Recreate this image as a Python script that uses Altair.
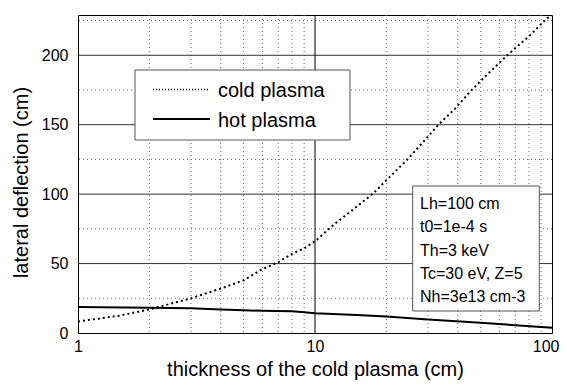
import altair as alt
import pandas as pd

# ---- data ----
cold_x = [1, 1.5, 2, 3, 4, 5, 6, 7, 8, 9, 10, 12, 15, 17.6, 20, 24.4, 30, 33, 39, 45, 51, 62, 72, 80, 87.5, 95.6, 100]
cold_y = [8.3, 12.5, 17, 25, 32, 38, 46, 51, 57, 61, 66, 78, 91, 100.5, 110, 124.5, 141.5, 149.6, 161.6, 173.6, 183, 197, 207, 213.7, 220.4, 226.8, 228.5]
hot_x = [1, 2, 3, 4, 5, 6, 8, 9, 10, 15, 20, 30, 50, 70, 100]
hot_y = [18.8, 18.2, 17.8, 17.0, 16.3, 16.0, 15.6, 14.9, 14.2, 13.0, 11.8, 9.8, 7.4, 5.6, 3.8]
series_names = ["cold plasma", " hot plasma"]

x_ticks = [1, 10, 100]
y_ticks = [0, 50, 100, 150, 200]
x_major_grid = [10]
x_minor_grid = [2, 3, 4, 5, 6, 7, 8, 9, 20, 30, 40, 50, 60, 70, 80, 90]
y_major_grid = [50, 100, 150, 200]
y_minor_grid = [25, 75, 125, 175, 225]

note_lines = ["Lh=100 cm", "t0=1e-4 s", "Th=3 keV", "Tc=30 eV, Z=5", "Nh=3e13 cm-3"]

FONT = "Liberation Sans"
W, H = 474, 318

cold_df = pd.DataFrame({"x": cold_x, "y": cold_y})
hot_df = pd.DataFrame({"x": hot_x, "y": hot_y})

xs = alt.Scale(type="log", domain=[1, 100], nice=False)
ys = alt.Scale(domain=[0, 229], nice=False, zero=False)

x_axis = alt.Axis(values=x_ticks, format="d", grid=False, ticks=False, domain=False,
                  labelFont=FONT, labelFontSize=16, labelColor="black", labelPadding=5,
                  labelAlign={"condition": {"test": "datum.value == 100", "value": "right"}, "value": "center"},
                  labelOffset={"condition": {"test": "datum.value == 100", "value": 7}, "value": 0},
                  title="thickness of the cold plasma (cm)", titleFont=FONT, titleFontSize=20,
                  titleFontWeight="normal", titleColor="black",
                  titleX=237, titleY=42, titleBaseline="alphabetic", titleAlign="center")
y_axis = alt.Axis(values=y_ticks, grid=False, ticks=False, domain=False,
                  labelFont=FONT, labelFontSize=16, labelColor="black", labelPadding=10,
                  title="lateral deflection (cm)", titleFont=FONT, titleFontSize=20,
                  titleFontWeight="normal", titleColor="black", titleAngle=270,
                  titleX=-51, titleY=167, titleBaseline="alphabetic", titleAlign="center")


def vgrid(vals, color, dash, width=1):
    d = pd.DataFrame({"v": vals})
    kw = {"strokeDash": dash} if dash else {}
    return alt.Chart(d).mark_rule(color=color, strokeWidth=width, **kw).encode(
        x=alt.X("v:Q", scale=xs, axis=x_axis))


def hgrid(vals, color, dash, width=1):
    d = pd.DataFrame({"v": vals})
    kw = {"strokeDash": dash} if dash else {}
    return alt.Chart(d).mark_rule(color=color, strokeWidth=width, **kw).encode(
        y=alt.Y("v:Q", scale=ys, axis=y_axis))


grid = alt.layer(
    vgrid(x_minor_grid, "#666666", [1, 3]),
    hgrid(y_minor_grid, "#666666", [1, 3]),
    hgrid(y_major_grid, "#333333", None),
    vgrid(x_major_grid, "#000000", None),
)

cold = alt.Chart(cold_df).mark_line(color="black", strokeWidth=2, strokeDash=[2, 3], strokeCap="butt").encode(
    x=alt.X("x:Q", scale=xs, axis=x_axis), y=alt.Y("y:Q", scale=ys, axis=y_axis))
hot = alt.Chart(hot_df).mark_line(color="black", strokeWidth=2).encode(
    x=alt.X("x:Q", scale=xs, axis=x_axis), y=alt.Y("y:Q", scale=ys, axis=y_axis))

one = pd.DataFrame({"a": [0]})

# legend box (drawn by hand to match the boxed legend of the original)
leg_box = alt.Chart(one).mark_rect(fill="white", stroke="#555555", strokeWidth=1).encode(
    x=alt.value(57), x2=alt.value(272), y=alt.value(55), y2=alt.value(125))
leg_cold = alt.Chart(one).mark_rule(color="black", strokeWidth=1.5, strokeDash=[1, 2]).encode(
    x=alt.value(75), x2=alt.value(132), y=alt.value(74.5))
leg_hot = alt.Chart(one).mark_rule(color="black", strokeWidth=2).encode(
    x=alt.value(75), x2=alt.value(132), y=alt.value(104))
leg_t1 = alt.Chart(one).mark_text(align="left", baseline="alphabetic", font=FONT, fontSize=20, color="black").encode(
    x=alt.value(140), y=alt.value(81.7), text=alt.value(series_names[0]))
leg_t2 = alt.Chart(one).mark_text(align="left", baseline="alphabetic", font=FONT, fontSize=20, color="black").encode(
    x=alt.value(140), y=alt.value(111.7), text=alt.value(series_names[1]))

box = alt.Chart(one).mark_rect(fill="white", stroke="#555555", strokeWidth=1).encode(
    x=alt.value(334.7), x2=alt.value(461.3), y=alt.value(171), y2=alt.value(296))
note = alt.Chart(one).mark_text(
    align="left", baseline="alphabetic", font=FONT, fontSize=16, lineHeight=23.2, color="black"
).encode(x=alt.value(342), y=alt.value(194.3), text=alt.value(note_lines))

chart = alt.layer(grid, cold, hot, leg_box, leg_cold, leg_hot, leg_t1, leg_t2, box, note).properties(
    width=W, height=H,
    padding={"left": 70, "top": 7, "right": 7, "bottom": 47},
    autosize=alt.AutoSizeParams(type="none"),
    background="white",
).configure_view(stroke="black", strokeWidth=1)

chart.save("out.html", embed_options={"renderer": "svg", "actions": False})
